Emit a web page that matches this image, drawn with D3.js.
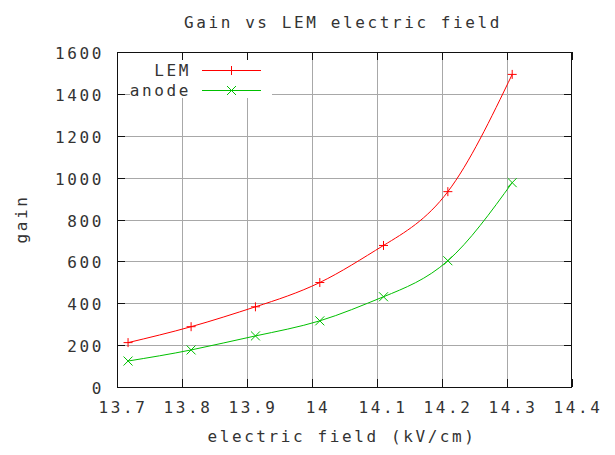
<!DOCTYPE html>
<html>
<head>
<meta charset="utf-8">
<script src="https://cdn.jsdelivr.net/npm/d3@7"></script>
<style>
  html, body { margin: 0; padding: 0; background: #fff; }
  svg { display: block; }
  text { font-family: "DejaVu Sans Mono", "Liberation Mono", monospace; font-size: 16px; letter-spacing: 2.6px; fill: #333; }
</style>
</head>
<body>
<svg id="chart" width="615" height="455"></svg>
<script>
// Gain measured on the LEM and on the anode versus LEM electric field
const fieldKVcm  = [13.717, 13.814, 13.913, 14.012, 14.110, 14.209, 14.308];
const gainLEM    = [212, 288, 383, 499, 676, 933, 1493];
const gainAnode  = [124, 177, 244, 316, 431, 603, 976];
const xTickVals  = [13.7, 13.8, 13.9, 14.0, 14.1, 14.2, 14.3, 14.4];
const yTickVals  = [0, 200, 400, 600, 800, 1000, 1200, 1400, 1600];
const seriesNames = ["LEM", "anode"];

const svg = d3.select("#chart");
const plot = { left: 117, right: 572, top: 52, bottom: 387 };

const x = d3.scaleLinear().domain([13.7, 14.4]).range([plot.left, plot.right]);
const y = d3.scaleLinear().domain([0, 1600]).range([plot.bottom, plot.top]);

const tickLen = 8;
const gridColor = "#a8a8a8";
const frameColor = "#111";
const textColor = "#333";

// grid
const grid = svg.append("g").attr("shape-rendering", "crispEdges");
grid.selectAll(".gx").data(xTickVals.slice(1, -1)).join("line")
  .attr("x1", d => Math.round(x(d)) + 0.5).attr("x2", d => Math.round(x(d)) + 0.5)
  .attr("y1", plot.top).attr("y2", plot.bottom)
  .attr("stroke", gridColor).attr("stroke-width", 1);
grid.selectAll(".gy").data(yTickVals.slice(1, -1)).join("line")
  .attr("y1", d => Math.round(y(d)) + 0.5).attr("y2", d => Math.round(y(d)) + 0.5)
  .attr("x1", plot.left).attr("x2", plot.right)
  .attr("stroke", gridColor).attr("stroke-width", 1);

// key background hides the grid behind it
svg.append("rect").attr("x", 130).attr("y", 60).attr("width", 142).attr("height", 38).attr("fill", "#fff");

// axes with ticks on all four sides
const fmtX = d => String(+d.toFixed(1));
const bottomAxis = d3.axisBottom(x).tickValues(xTickVals).tickSize(-tickLen).tickFormat(fmtX);
const topAxis = d3.axisTop(x).tickValues(xTickVals).tickSize(-tickLen).tickFormat("");
const leftAxis = d3.axisLeft(y).tickValues(yTickVals).tickSize(-tickLen).tickFormat(d3.format("d"));
const rightAxis = d3.axisRight(y).tickValues(yTickVals).tickSize(-tickLen).tickFormat("");

function styleAxis(g) {
  g.select(".domain").remove();
  g.selectAll(".tick line").attr("stroke", frameColor).attr("shape-rendering", "crispEdges");
  g.selectAll(".tick text").attr("fill", textColor);
  g.attr("font-family", null).attr("font-size", null);
}

const gb = svg.append("g").attr("transform", `translate(0,${plot.bottom})`).call(bottomAxis).call(styleAxis);
gb.selectAll(".tick text").attr("y", 26).attr("dy", 0).attr("dx", 5.5);
svg.append("g").attr("transform", `translate(0,${plot.top})`).call(topAxis).call(styleAxis);
const gl = svg.append("g").attr("transform", `translate(${plot.left},0)`).call(leftAxis).call(styleAxis);
gl.selectAll(".tick text").attr("x", -13).attr("dy", 6.5);
svg.append("g").attr("transform", `translate(${plot.right},0)`).call(rightAxis).call(styleAxis);

// frame
svg.append("rect")
  .attr("x", plot.left + 0.5).attr("y", plot.top + 0.5)
  .attr("width", plot.right - plot.left - 1).attr("height", plot.bottom - plot.top)
  .attr("fill", "none").attr("stroke", frameColor).attr("stroke-width", 1)
  .attr("shape-rendering", "crispEdges");

// titles
svg.append("text").attr("x", 343).attr("y", 28).attr("text-anchor", "middle").text("Gain vs LEM electric field");
svg.append("text").attr("x", 342).attr("y", 442).attr("text-anchor", "middle").text("electric field (kV/cm)");
svg.append("text").attr("transform", "translate(27,219) rotate(-90)").attr("text-anchor", "middle").text("gain");

// series
const series = [
  { name: seriesNames[0], values: gainLEM, color: "#ff0000", marker: "plus" },
  { name: seriesNames[1], values: gainAnode, color: "#00c000", marker: "cross" }
];

const line = d3.line().x(d => x(d[0])).y(d => y(d[1])).curve(d3.curveNatural);

function drawMarker(g, type, cx, cy, color) {
  const r = 4.5;
  const p = type === "plus"
    ? `M${cx - r},${cy}H${cx + r}M${cx},${cy - r}V${cy + r}`
    : `M${cx - r},${cy - r}L${cx + r},${cy + r}M${cx - r},${cy + r}L${cx + r},${cy - r}`;
  g.append("path").attr("d", p).attr("stroke", color).attr("stroke-width", 1).attr("fill", "none");
}

series.forEach((s, i) => {
  const pts = fieldKVcm.map((f, k) => [f, s.values[k]]);
  svg.append("path").datum(pts).attr("d", line)
    .attr("fill", "none").attr("stroke", s.color).attr("stroke-width", 1);
  const mg = svg.append("g");
  pts.forEach(p => drawMarker(mg, s.marker, x(p[0]), y(p[1]), s.color));

  // key entry
  const ky = 70 + i * 20;
  svg.append("text").attr("x", 191).attr("y", ky + 6).attr("text-anchor", "end").text(s.name);
  svg.append("line").attr("x1", 202).attr("x2", 261).attr("y1", ky + 0.5).attr("y2", ky + 0.5)
    .attr("stroke", s.color).attr("stroke-width", 1);
  drawMarker(svg, s.marker, 231.5, ky + 0.5, s.color);
});
</script>
</body>
</html>
